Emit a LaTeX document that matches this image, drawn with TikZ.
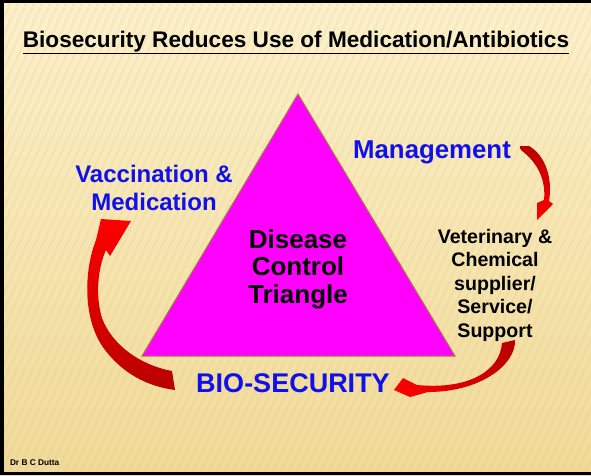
\documentclass[tikz,border=0pt]{standalone}
\usepackage{fontspec}
\setmainfont{Liberation Sans}
\definecolor{bgtop}{HTML}{FCF1CC}
\definecolor{bgmid}{HTML}{F9E9B8}
\definecolor{bgbot}{HTML}{F1DA98}
\definecolor{stripe}{HTML}{D9B870}
\definecolor{lblue}{RGB}{16,16,235}
\definecolor{darkred}{HTML}{B80000}
\definecolor{brightred}{HTML}{FF0000}
\definecolor{trifill}{HTML}{FF00FF}
\definecolor{triedge}{HTML}{A3803F}
\tikzset{
  lbl/.style={inner sep=0pt, outer sep=0pt, text=black, align=center},
  bluelbl/.style={lbl, text=lblue},
  stripeline/.style={draw=stripe, opacity=0.12, line width=2.5pt},
}
\begin{document}
\begin{tikzpicture}[x=1pt,y=-1pt]
\useasboundingbox (0,0) rectangle (591,475);
% background
\shade[top color=bgtop, middle color=bgmid, bottom color=bgbot] (0,0) rectangle (591,475);
\begin{scope}
  \clip (0,0) rectangle (591,475);
  \foreach \sx in {-240,-232,...,600} {
    \path[stripeline] (\sx,475) -- ({\sx+220},0);
  }
\end{scope}
\fill[black] (0,0) rectangle (591,3);
\fill[black] (0,0) rectangle (4,475);
\fill[black] (0,472) rectangle (591,475);
% triangle
\coordinate (apex) at (298,94);
\coordinate (bl) at (142,356);
\coordinate (br) at (455,356);
\draw[fill=trifill, draw=triedge, line width=1pt, line join=miter] (apex) -- (br) -- (bl) -- cycle;
% texts
\node[lbl, anchor=base, font=\fontsize{22.6}{26}\selectfont\bfseries] (title) at (296,47) {\underline{Biosecurity Reduces Use of Medication/Antibiotics}};
\node[bluelbl, anchor=base, font=\fontsize{25.8}{30}\selectfont\bfseries] (mgmt) at (432,158) {Management};
\node[bluelbl, font=\fontsize{24}{28}\selectfont\bfseries] (vacc) at (154,188) {Vaccination \&\\Medication};
\node[bluelbl, anchor=base, font=\fontsize{27}{32}\selectfont\bfseries] (bio) at (293,392) {BIO-SECURITY};
\node[lbl, font=\fontsize{26}{27.5}\selectfont\bfseries] (dct) at (298,269) {Disease\\Control\\Triangle};
\node[lbl, font=\fontsize{19.6}{23.5}\selectfont\bfseries] (vet) at (495,285) {Veterinary \&\\Chemical\\supplier/\\Service/\\Support};
\node[lbl, anchor=base west, font=\fontsize{8.3}{10}\selectfont\bfseries] (auth) at (10,465) {Dr B C Dutta};
% arrow: Management -> Veterinary
\shade[top color=darkred, bottom color=brightred]
  (529,146) .. controls (545,155) and (553,178) .. (549,201)
  -- (553,204) -- (537,220) -- (537,203) -- (544,200)
  .. controls (546,180) and (538,163) .. (521,150) -- (520,146) -- cycle;
% arrow: Support -> BIO-SECURITY
\shade[right color=darkred, left color=brightred]
  (515,340) .. controls (516,365) and (480,392) .. (428,392)
  -- (410,397) -- (394,390) -- (403,378) -- (417,385)
  .. controls (470,390) and (500,370) .. (502,343) -- cycle;
% arrow: BIO-SECURITY -> Vaccination & Medication
\shade[bottom color=darkred, top color=brightred]
  (172,371) .. controls (140,365) and (112,345) .. (102,318)
  .. controls (95,295) and (98,268) .. (106,250)
  -- (110,256) -- (131,221) -- (101,219) -- (96,240)
  .. controls (84,270) and (82,320) .. (105,350)
  .. controls (122,372) and (145,386) .. (175,390) -- cycle;
\end{tikzpicture}
\end{document}
